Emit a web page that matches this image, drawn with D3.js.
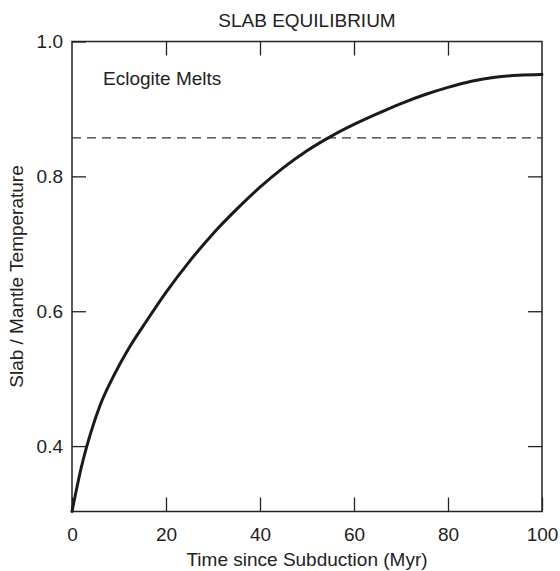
<!DOCTYPE html>
<html>
<head>
<meta charset="utf-8">
<script src="https://cdn.jsdelivr.net/npm/d3@7"></script>
<style>
  html, body { margin: 0; padding: 0; background: #fff; }
  svg { display: block; }
  text { font-family: "Liberation Sans", Arial, Helvetica, sans-serif; fill: #222; }
</style>
</head>
<body>
<script>
// ---- data ----
const timeMyr = [0, 2, 4, 6, 9, 12, 16, 20, 25, 30, 35, 40, 45, 50, 55, 60, 65, 70, 75, 80, 85, 90, 95, 100];
const slabMantleRatio = [0.303, 0.369, 0.420, 0.461, 0.506, 0.544, 0.587, 0.628, 0.674, 0.715, 0.751, 0.784, 0.813, 0.838, 0.859, 0.877, 0.893, 0.908, 0.921, 0.932, 0.941, 0.947, 0.950, 0.951];
const meltLevel = [0.857];
const xTicks = [0, 20, 40, 60, 80, 100];
const yTicks = [0.4, 0.6, 0.8, 1.0];
const xDomain = [0, 100];
const yDomain = [0.303, 1.0];
const titleText = "SLAB EQUILIBRIUM";
const xLabel = "Time since Subduction (Myr)";
const yLabel = "Slab / Mantle Temperature";
const annotation = { text: "Eclogite Melts", t: 6.6, v: 0.936 };

// ---- layout ----
const W = 560, H = 571;
const M = { left: 72, right: 18, top: 41.5, bottom: 59.5 };
const FS = 19;
const INK = "#222";

const svg = d3.select("body").append("svg").attr("width", W).attr("height", H);

const x = d3.scaleLinear().domain(xDomain).range([M.left, W - M.right]);
const y = d3.scaleLinear().domain(yDomain).range([H - M.bottom, M.top]);

const points = timeMyr.map((t, i) => ({ t, v: slabMantleRatio[i] }));

// axes (ticks pointing inward)
function styleAxis(g) {
  g.select(".domain").remove();
  g.selectAll(".tick line").attr("stroke", INK).attr("stroke-width", 1.3);
  g.selectAll(".tick text").attr("fill", INK).style("font-size", FS + "px")
    .style("font-family", '"Liberation Sans", Arial, Helvetica, sans-serif');
}

svg.append("g").attr("transform", `translate(0,${y(yDomain[0])})`)
  .call(d3.axisBottom(x).tickValues(xTicks).tickSize(-14).tickPadding(16.5).tickFormat(d3.format("d")))
  .call(styleAxis);

svg.append("g").attr("transform", `translate(${x(xDomain[0])},0)`)
  .call(d3.axisLeft(y).tickValues(yTicks).tickSize(-14).tickPadding(9).tickFormat(d3.format(".1f")))
  .call(styleAxis);

svg.append("g").attr("transform", `translate(0,${y(yDomain[1])})`)
  .call(d3.axisTop(x).tickValues(xTicks.slice(1, -1)).tickSize(-14).tickFormat(""))
  .call(styleAxis);

svg.append("g").attr("transform", `translate(${x(xDomain[1])},0)`)
  .call(d3.axisRight(y).tickValues(yTicks.slice(0, -1)).tickSize(-14).tickFormat(""))
  .call(styleAxis);

// frame
svg.append("rect")
  .attr("x", x(xDomain[0])).attr("y", y(yDomain[1]))
  .attr("width", x(xDomain[1]) - x(xDomain[0]))
  .attr("height", y(yDomain[0]) - y(yDomain[1]))
  .attr("fill", "none").attr("stroke", INK).attr("stroke-width", 1.5);

// dashed melt threshold
svg.selectAll("line.melt").data(meltLevel).enter().append("line")
  .attr("class", "melt")
  .attr("x1", x(xDomain[0])).attr("x2", x(xDomain[1]))
  .attr("y1", d => y(d)).attr("y2", d => y(d))
  .attr("stroke", "#333").attr("stroke-width", 1.3)
  .attr("stroke-dasharray", "9,6");

// curve
svg.append("path").datum(points)
  .attr("fill", "none").attr("stroke", "#1a1a1a").attr("stroke-width", 3)
  .attr("stroke-linecap", "round")
  .attr("d", d3.line().x(d => x(d.t)).y(d => y(d.v)).curve(d3.curveMonotoneX));

// texts
svg.append("text").attr("x", (x(xDomain[0]) + x(xDomain[1])) / 2).attr("y", 26.5)
  .attr("text-anchor", "middle").style("font-size", FS + "px").text(titleText);

svg.append("text").attr("x", x(annotation.t)).attr("y", y(annotation.v))
  .style("font-size", FS + "px").text(annotation.text);

svg.append("text").attr("x", (x(xDomain[0]) + x(xDomain[1])) / 2).attr("y", 566)
  .attr("text-anchor", "middle").style("font-size", FS + "px").text(xLabel);

svg.append("text")
  .attr("transform", `translate(22.5,${(y(yDomain[0]) + y(yDomain[1])) / 2}) rotate(-90)`)
  .attr("text-anchor", "middle").style("font-size", FS + "px").text(yLabel);
</script>
</body>
</html>
